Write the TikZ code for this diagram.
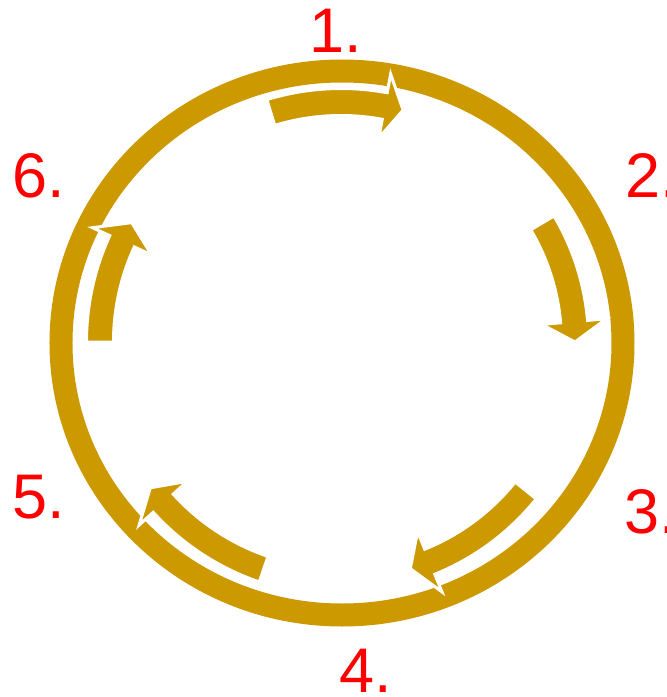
\documentclass[tikz,border=0pt]{standalone}
\usepackage{fontspec}
\usetikzlibrary{shapes.geometric}
\setmainfont{Liberation Sans}
\definecolor{gold}{RGB}{204,153,0}
\definecolor{lblred}{RGB}{255,0,0}
\newcommand{\ringarrow}[5]{% name, start, headbase, tip, radius
  \path[arrowshape] (#2:#5+13.5) arc[start angle=#2, end angle=#3, radius=#5+13.5]
    -- (#3:#5+32.5) -- (#4:#5) -- (#3:#5-32.5) -- (#3:#5-13.5)
    arc[start angle=#3, end angle=#2, radius=#5-13.5] -- cycle;
  \coordinate (#1) at (#4:#5);}
\begin{document}
\begin{tikzpicture}[x=1pt,y=1pt,
  ringstyle/.style={draw=gold, line width=23pt},
  arrowshape/.style={fill=gold, draw=white, line width=3pt, line join=miter},
  lbl/.style={text=lblred, font=\fontsize{63}{63}\selectfont, inner sep=0pt, anchor=base west}]
\useasboundingbox (-341,-355) rectangle (326,342);
\fill[white] (-341,-355) rectangle (326,342);
\node[ringstyle, ellipse, minimum width=562pt, minimum height=544pt, inner sep=0pt, outer sep=0pt] (ring) at (1,-1) {};
\ringarrow{a1}{107}{79.5}{75}{240}
\ringarrow{a2}{30.6}{5}{0}{234}
\ringarrow{a3}{-38.8}{-68}{-73}{237}
\ringarrow{a4}{-108.8}{-137.8}{-142.6}{240}
\ringarrow{a5}{180}{155.3}{150.3}{241}
\node[lbl] (l1) at (-32,289) {1.};
\node[lbl] (l2) at (284,145) {2.};
\node[lbl] (l3) at (283,-191) {3.};
\node[lbl] (l4) at (-2,-350) {4.};
\node[lbl] (l5) at (-328.5,-176) {5.};
\node[lbl] (l6) at (-328.5,145) {6.};
\end{tikzpicture}
\end{document}
